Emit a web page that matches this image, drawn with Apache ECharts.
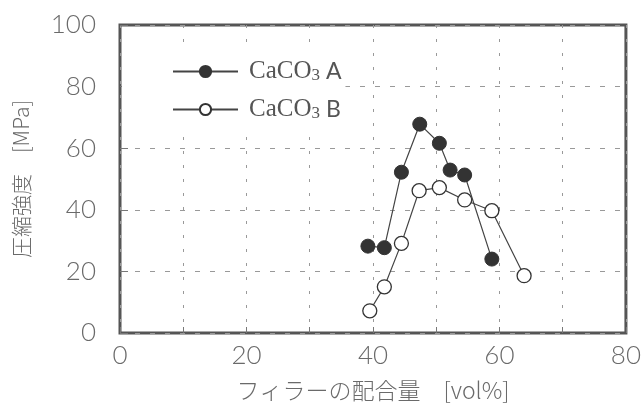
<!DOCTYPE html>
<html>
<head>
<meta charset="utf-8">
<script src="https://cdn.jsdelivr.net/npm/echarts@6/dist/echarts.min.js"></script>
<style>
html, body { margin: 0; padding: 0; background: #fff; }
#main { width: 644px; height: 408px; }
</style>
</head>
<body>
<div id="main"></div>
<script>
// フィラー配合量 [vol%] と 圧縮強度 [MPa]
var xA = [39.2, 41.8, 44.5, 47.4, 50.5, 52.2, 54.5, 58.8];
var yA = [28.2, 27.7, 52.2, 67.8, 61.6, 52.9, 51.3, 24.0];
var xB = [39.5, 41.8, 44.5, 47.3, 50.5, 54.5, 58.8, 63.9];
var yB = [7.2, 15.0, 29.1, 46.2, 47.2, 43.2, 39.7, 18.6];
var seriesNames = ['CaCO3 A', 'CaCO3 B'];
var xTicks = [0, 20, 40, 60, 80];

var labelFont = 'Lato';
var textGray = '#6a6a6a';

function pairs(xs, ys) {
    var out = [];
    for (var i = 0; i < xs.length; i++) {
        out.push([xs[i], ys[i]]);
    }
    return out;
}

var myChart = echarts.init(document.getElementById('main'));

var option = {
    backgroundColor: '#fff',
    animation: false,
    grid: {
        left: 120,
        right: 10,
        top: 25,
        bottom: 75,
        show: true,
        borderColor: '#555',
        borderWidth: 3
    },
    legend: {
        orient: 'vertical',
        left: 122,
        top: 47,
        itemWidth: 65,
        itemHeight: 14,
        itemGap: 13,
        backgroundColor: '#fff',
        // 凡例の白地で80の格子線を隠す
        padding: [12, 4, 12, 50],
        data: seriesNames,
        formatter: function (name) {
            var parts = name.split(' ');
            return '{c|CaCO}{s|3}{l| ' + parts[1] + '}';
        },
        textStyle: {
            color: '#555',
            padding: [0, 0, 0, 6],
            rich: {
                c: { fontFamily: 'Liberation Serif', fontSize: 25, color: '#555' },
                s: { fontFamily: 'Liberation Serif', fontSize: 17, color: '#555', verticalAlign: 'bottom', padding: [6, 0, 0, 0] },
                l: { fontFamily: labelFont, fontSize: 23, color: '#555' }
            }
        }
    },
    xAxis: {
        type: 'value',
        min: 0,
        max: 80,
        interval: 10,
        name: 'フィラーの配合量　[vol%]',
        nameLocation: 'middle',
        nameGap: 46,
        nameTextStyle: {
            fontFamily: 'Noto Sans CJK JP',
            fontSize: 23,
            color: textGray,
            fontWeight: 300
        },
        axisLine: { show: false },
        axisTick: { show: true, inside: true, length: 6, lineStyle: { color: '#777', width: 1 } },
        axisLabel: {
            margin: 10,
            fontFamily: labelFont,
            fontSize: 26,
            fontWeight: 300,
            color: textGray,
            formatter: function (v) {
                return xTicks.indexOf(v) >= 0 ? String(v) : '';
            }
        },
        splitLine: {
            show: true,
            lineStyle: { color: '#999', width: 1, type: [3, 11] }
        }
    },
    yAxis: {
        type: 'value',
        min: 0,
        max: 100,
        interval: 20,
        name: '圧縮強度　[MPa]',
        nameLocation: 'middle',
        nameGap: 88,
        nameRotate: 90,
        nameTextStyle: {
            fontFamily: 'Noto Sans CJK JP',
            fontSize: 21,
            color: textGray,
            fontWeight: 300
        },
        axisLine: { show: false },
        axisTick: { show: true, inside: true, length: 8, lineStyle: { color: '#777', width: 1 } },
        axisLabel: {
            margin: 24,
            fontFamily: labelFont,
            fontSize: 26,
            fontWeight: 300,
            color: textGray
        },
        splitLine: {
            show: true,
            lineStyle: { color: '#999', width: 1, type: [5, 10] }
        }
    },
    series: [{
        name: seriesNames[0],
        type: 'line',
        data: pairs(xA, yA),
        symbol: 'circle',
        symbolSize: 14,
        lineStyle: { color: '#444', width: 1.2 },
        itemStyle: { color: '#333', borderColor: '#333', borderWidth: 1 },
        z: 3
    },
        {
            name: seriesNames[1],
            type: 'line',
            data: pairs(xB, yB),
            symbol: 'circle',
            symbolSize: 14,
            lineStyle: { color: '#444', width: 1.2 },
            itemStyle: { color: '#fff', borderColor: '#333', borderWidth: 1.3 },
            z: 2
        }
    ]
};

myChart.setOption(option);
</script>
</body>
</html>
